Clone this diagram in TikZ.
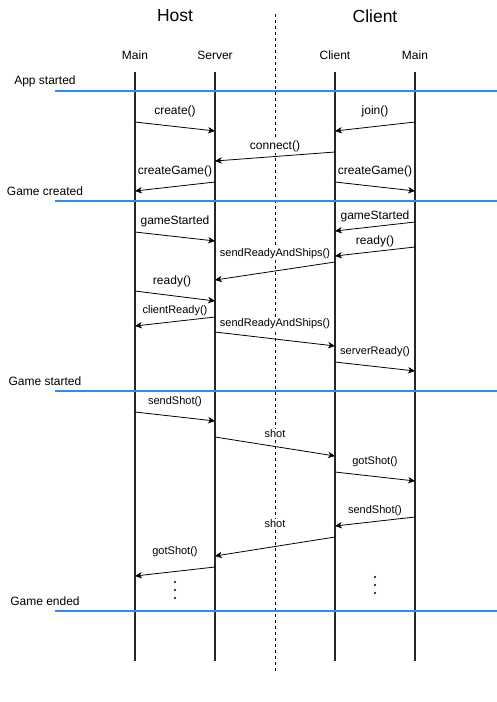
\documentclass[tikz,border=0pt]{standalone}
\usepackage{fontspec}
\setmainfont{Liberation Sans}
\usetikzlibrary{arrows.meta}
\definecolor{phaseblue}{RGB}{40,140,255}
\begin{document}
\begin{tikzpicture}[x=1pt, y=-1pt,
  head/.style = {font=\fontsize{12}{14}\selectfont},
  title/.style = {font=\fontsize{17.5}{20}\selectfont},
  phase/.style = {font=\fontsize{12}{14}\selectfont},
  life/.style = {line width=1.6pt, black!85},
  phaseline/.style = {line width=1.6pt, phaseblue},
  msg/.style = {-{Stealth[length=7pt,width=6.5pt]}, line width=0.8pt},
  lbl/.style = {fill=white, inner sep=1pt}]
\useasboundingbox (0,0) rectangle (497,702);

% Host / Client
\node[title] (host) at (175,16) {Host};
\node[title] (client) at (375,16) {Client};
\coordinate (midtop) at (275,14);
\coordinate (midbot) at (275,671);
\draw[dash pattern=on 3pt off 3pt, line width=0.8pt] (midtop) -- (midbot);

% lifelines
\foreach \x/\name/\txt in {135/hmain/Main, 215/hserver/Server, 335/cclient/Client, 415/cmain/Main} {
  \node[head] (\name) at (\x,55) {\txt};
  \coordinate (\name top) at (\x,72);
  \coordinate (\name bot) at (\x,661);
  \draw[life] (\name top) -- (\name bot);
}

% phases
\foreach \y/\name/\txt in {91/app/App started, 201/created/Game created, 391/started/Game started, 611/ended/Game ended} {
  \node[phase] (\name) at (45,\y-10) {\txt};
  \coordinate (\name l) at (55,\y);
  \coordinate (\name r) at (497,\y);
  \draw[phaseline] (\name l) -- (\name r);
}

% messages
\foreach \xa/\ya/\xb/\yb/\lx/\ly/\fs/\txt [count=\i] in {
  135/122/215/131/175/111/12/create(),
  415/122/335/131/375/111/12/join(),
  335/152/215/161/275/146/12/connect(),
  215/182/135/191/175/171/12/createGame(),
  335/182/415/191/375/171/12/createGame(),
  135/232/215/241/175/221/12/gameStarted,
  415/222/335/231/375/216/12/gameStarted,
  415/247/335/256/375/241/12/ready(),
  335/262/215/280/275/254/11/sendReadyAndShips(),
  135/291/215/301/172/281/12/ready(),
  215/317/135/326/175/311/11/clientReady(),
  215/332/335/346/275/324/11/sendReadyAndShips(),
  335/362/415/371/375/352/11/serverReady(),
  135/412/215/421/175/402/11/sendShot(),
  215/437/335/456/275/434/11/shot,
  335/472/415/481/375/462/11/gotShot(),
  415/517/335/526/375/511/11/sendShot(),
  335/537/215/556/275/524/11/shot,
  215/567/135/576/175/552/11/gotShot()} {
  \coordinate (m\i s) at (\xa,\ya);
  \coordinate (m\i e) at (\xb,\yb);
  \node[lbl, font=\fontsize{\fs}{\fs}\selectfont] (l\i) at (\lx,\ly) {\txt};
  \draw[msg] (m\i s) -- (m\i e);
}

% more to come
\foreach \x/\y [count=\i] in {175/582, 175/590, 175/598, 375/577, 375/585, 375/593}
  \fill (\x,\y) circle (1.2pt) coordinate (dot\i);
\end{tikzpicture}
\end{document}
